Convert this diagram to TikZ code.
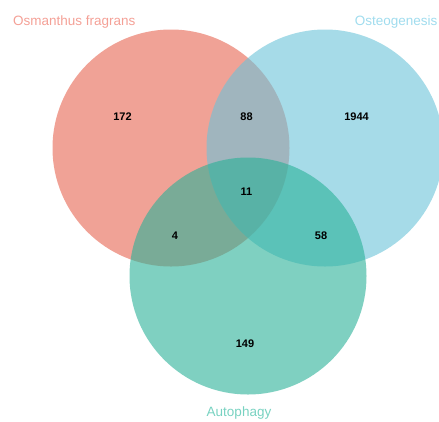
\documentclass[tikz,border=0pt]{standalone}
\usepackage{fontspec}
\setmainfont{Liberation Sans}
\definecolor{redbase}{RGB}{230,100,80}
\definecolor{bluebase}{RGB}{107,195,217}
\definecolor{greenbase}{RGB}{42,177,152}
\definecolor{redlab}{RGB}{244,160,150}
\definecolor{bluelab}{RGB}{160,220,238}
\definecolor{greenlab}{RGB}{120,210,193}
\tikzset{
  set/.style={circle, minimum size=237pt, inner sep=0pt, draw=none, fill opacity=0.6, text opacity=1},
  count/.style={font=\fontsize{11}{13}\selectfont\bfseries, text=black, inner sep=0pt},
  setlabel/.style={font=\fontsize{13.5}{15}\selectfont, inner sep=0pt}
}
\begin{document}
\begin{tikzpicture}[x=1pt,y=-1pt]
\useasboundingbox (0,0) rectangle (439,421);
\clip (0,0) rectangle (439,421);
\node[set, fill=redbase] (A) at (171,148) {};
\node[set, fill=bluebase] (B) at (325,148) {};
\node[set, fill=greenbase] (C) at (248,276) {};
\node[count] (n172) at (122.5,117) {172};
\node[count] (n88) at (246.5,117) {88};
\node[count] (n1944) at (356.5,117) {1944};
\node[count] (n11) at (246.5,191.5) {11};
\node[count] (n4) at (175,236) {4};
\node[count] (n58) at (321,236) {58};
\node[count] (n149) at (245,344) {149};
\node[setlabel, text=redlab, anchor=west] (la) at (13,22.5) {Osmanthus fragrans};
\node[setlabel, text=bluelab, anchor=east] (lb) at (437.5,22.5) {Osteogenesis};
\node[setlabel, text=greenlab] (lc) at (239,413) {Autophagy};
\end{tikzpicture}
\end{document}
